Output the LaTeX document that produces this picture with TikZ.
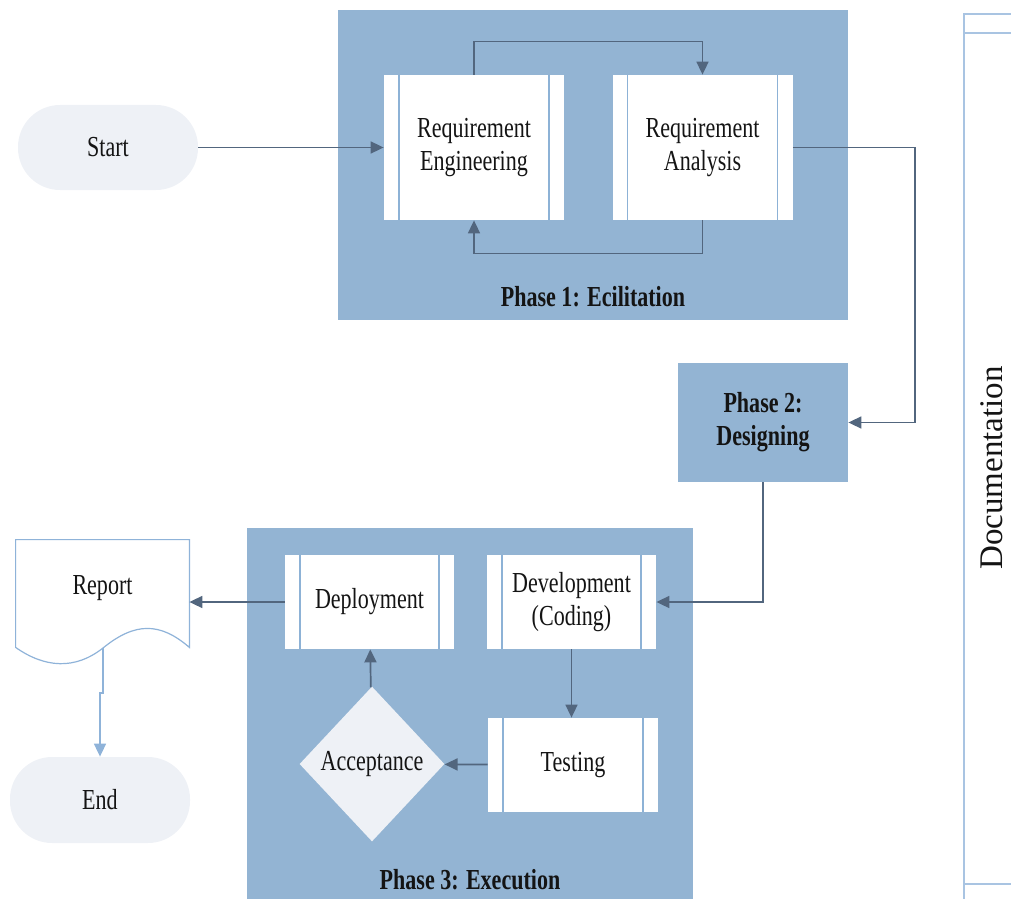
\documentclass[tikz,border=0pt]{standalone}
\usepackage{fontspec}
\setmainfont{Liberation Serif}[FakeStretch=0.76]
\newfontfamily\docfont{Liberation Serif}
\usetikzlibrary{arrows.meta,shapes.geometric}
\definecolor{phaseblue}{RGB}{147,180,211}
\definecolor{flowdark}{RGB}{82,102,126}
\definecolor{barline}{RGB}{141,178,214}
\definecolor{reportline}{RGB}{143,179,217}
\definecolor{docline}{RGB}{169,196,226}
\definecolor{termfill}{RGB}{238,241,246}
\definecolor{inktext}{RGB}{20,20,20}
\newcommand{\flowsize}{\fontsize{14.5}{16.5}\selectfont}
\tikzset{
	procbox/.style={fill=white,minimum width=90pt,minimum height=72.5pt,inner sep=0pt,align=center,
		path picture={\draw[-,barline,line width=0.6pt]
			([xshift=7.5pt]path picture bounding box.north west)--([xshift=7.5pt]path picture bounding box.south west)
			([xshift=-7.5pt]path picture bounding box.north east)--([xshift=-7.5pt]path picture bounding box.south east);}},
	termbox/.style={fill=termfill,rounded corners=21pt,minimum width=90pt,minimum height=42.5pt},
	phasebox/.style={fill=phaseblue,inner sep=0pt},
	phaselbl/.style={font=\flowsize\bfseries},
	flow/.style={->,flowdark,line width=0.85pt},
	lightflow/.style={->,reportline,line width=0.85pt}
}
\begin{document}
\begin{tikzpicture}[x=0.5pt,y=-0.5pt,>={Triangle[length=6.5pt,width=6pt]},font=\flowsize,text=inktext]
	\useasboundingbox (0,0) rectangle (1011,899);
	\node[phasebox,minimum width=255pt,minimum height=155pt] (phaseone) at (593,165){};
	\node[phasebox,minimum width=223pt,minimum height=185.5pt] (phasethree) at (470,713.5){};
	\node[phasebox,phaselbl,minimum width=85pt,minimum height=59.5pt,align=center] (phasetwo) at (763,422.5){Phase 2:\\Designing};
	\node[phaselbl] (phaseonelbl) at (593,297){Phase 1: Ecilitation};
	\node[phaselbl] (phasethreelbl) at (470,880){Phase 3: Execution};
	\node[termbox] (start) at (108,147.5){Start};
	\node[termbox,minimum height=43pt] (finish) at (100,800){End};
	\node[procbox] (reqeng) at (474,147.5){Requirement\\Engineering};
	\node[procbox] (reqana) at (702.5,147.5){Requirement\\Analysis};
	\node[procbox,minimum width=84.5pt,minimum height=47pt] (deploy) at (369.5,602){Deployment};
	\node[procbox,minimum width=84.5pt,minimum height=47pt] (devel) at (571.5,602){Development\\(Coding)};
	\node[procbox,minimum width=85pt,minimum height=47pt] (testing) at (573,765){Testing};
	\node[diamond,fill=termfill,minimum width=72.5pt,minimum height=77.5pt,inner sep=0pt] (accept) at (372,764){Acceptance};
	\node[minimum width=86.5pt,minimum height=53.5pt,inner sep=0pt] (report) at (102.5,593.5){};
	\draw[reportline,line width=0.6pt,fill=white] (report.north west) -- (report.north east) -- (report.south east)
		.. controls (160,622) and (135,622) .. (103,648) .. controls (75,670) and (45,668) .. (report.south west) -- cycle;
	\node (rpttext) at (102.5,588){Report};
	\coordinate (rptout) at (103,648);
	\draw[docline,line width=0.8pt] (1011,14) -- (964,14) -- (964,899);
	\draw[docline,line width=0.8pt] (964,33) -- (1011,33) (964,884) -- (1011,884);
	\node[font=\docfont\fontsize{16.5}{18}\selectfont,rotate=90] (doctext) at (992,468){Documentation};
	\foreach \a/\b in {start/reqeng,testing/accept,accept/deploy}
	{
		\draw[flow] (\a) -- (\b);
	}
	\draw[flow] (deploy.west) -- (deploy.west -| report.east);
	\draw[flow] (devel.south) -- (devel.south |- testing.north);
	\draw[flow] (reqeng.north) -- ++(0,-33) -| (reqana.north);
	\draw[flow] (reqana.south) -- ++(0,33) -| (reqeng.south);
	\draw[flow] (reqana.east) -- ++(122,0) |- (phasetwo.east);
	\draw[flow] (phasetwo.south) |- (devel.east);
	\draw[lightflow] (rptout) -- ++(0,45) -| (finish.north);
\end{tikzpicture}
\end{document}
